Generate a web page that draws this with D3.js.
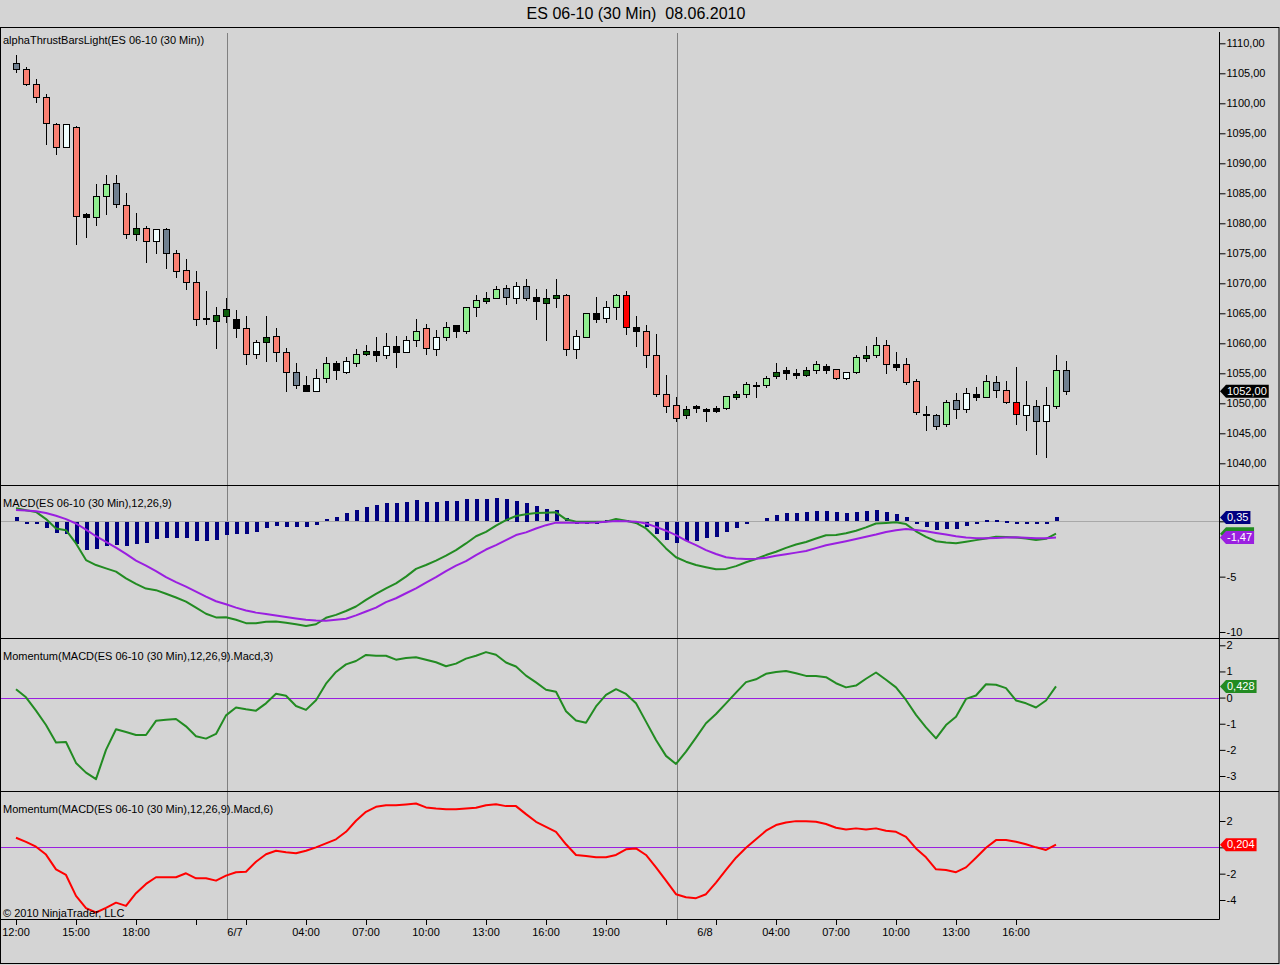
<!DOCTYPE html>
<html>
<head>
<meta charset="utf-8">
<script src="https://cdn.jsdelivr.net/npm/d3@7"></script>
<style>
    body { margin: 0; background: #d4d4d4; }
    svg { display: block; }
</style>
</head>
<body>
<div id="chart-area"></div>
<script>
// ---- bar data (ES 06-10, 30 min) ----
const open = [1106.75,1105.75,1103.25,1101.0,1096.5,1092.75,1096.0,1081.5,1081.0,1084.5,
    1086.75,1083.0,1078.25,1079.25,1077.0,1079.0,1075.0,1072.25,1070.25,1064.25,
    1063.75,1064.5,1064.0,1062.5,1058.25,1060.25,1061.25,1058.5,1055.25,1053.0,
    1052.0,1054.25,1056.75,1055.25,1056.75,1058.25,1058.75,1058.0,1059.5,1058.5,
    1060.5,1062.5,1059.0,1061.0,1063.0,1062.0,1066.0,1067.0,1067.5,1069.25,
    1067.5,1069.5,1067.75,1066.75,1067.5,1068.0,1059.0,1061.0,1065.0,1064.25,
    1066.0,1068.0,1062.75,1062.0,1058.0,1051.5,1049.75,1048.0,1049.5,1049.0,
    1049.25,1049.25,1051.0,1051.5,1053.0,1053.0,1054.5,1055.5,1055.0,1054.75,
    1055.5,1056.25,1055.75,1054.25,1055.25,1057.5,1058.0,1059.75,1056.5,1056.5,
    1053.75,1048.25,1048.0,1046.5,1050.5,1049.0,1051.5,1051.0,1053.5,1052.25,
    1050.25,1048.0,1049.5,1047.0,1049.5,1055.5];
const high = [1108.0,1106.0,1104.0,1101.5,1096.75,1096.5,1096.25,1081.75,1086.5,1088.0,
    1088.0,1085.0,1081.75,1079.5,1079.0,1079.25,1075.5,1074.0,1072.0,1068.75,
    1066.0,1067.5,1065.5,1064.5,1060.5,1064.5,1062.5,1059.25,1056.75,1054.5,
    1055.75,1057.75,1057.0,1057.75,1059.0,1059.75,1061.0,1061.75,1061.25,1061.25,
    1064.0,1063.25,1062.25,1063.5,1063.0,1066.0,1068.0,1068.5,1069.5,1069.75,
    1070.25,1070.75,1069.0,1069.0,1070.75,1068.25,1062.25,1065.0,1067.75,1067.0,
    1068.25,1068.75,1064.5,1063.0,1061.5,1054.75,1051.0,1049.5,1049.75,1049.25,
    1049.5,1051.25,1052.0,1053.5,1053.5,1054.5,1056.75,1056.0,1055.75,1056.0,
    1057.0,1056.5,1055.75,1055.25,1058.0,1059.5,1061.0,1060.5,1058.5,1057.5,
    1054.0,1049.5,1048.25,1050.5,1051.75,1052.5,1052.75,1054.75,1054.5,1053.75,
    1056.0,1053.75,1050.5,1052.75,1058.0,1057.0];
const low = [1105.25,1103.0,1100.25,1093.25,1091.5,1092.75,1076.5,1077.75,1079.75,1081.5,
    1082.75,1077.5,1077.25,1073.5,1075.0,1072.5,1071.0,1069.0,1063.0,1063.25,
    1059.25,1063.5,1061.0,1056.5,1057.5,1057.0,1057.0,1052.0,1052.5,1052.0,
    1052.0,1053.5,1054.0,1055.0,1056.25,1058.0,1057.0,1057.5,1056.0,1058.5,
    1059.5,1058.25,1058.0,1060.5,1061.0,1061.75,1064.5,1066.75,1067.5,1066.5,
    1066.75,1067.25,1064.0,1060.5,1066.0,1058.0,1057.5,1061.0,1063.5,1063.5,
    1064.0,1061.5,1059.5,1056.0,1051.25,1048.5,1047.0,1047.5,1048.5,1047.0,
    1048.5,1049.0,1050.75,1051.0,1051.0,1052.75,1054.25,1054.0,1054.25,1054.5,
    1055.0,1055.0,1054.0,1054.0,1055.0,1057.0,1057.75,1055.0,1055.5,1053.25,
    1048.25,1045.5,1045.75,1046.25,1047.5,1048.5,1050.5,1051.0,1051.0,1050.0,
    1046.5,1045.5,1041.5,1041.0,1049.25,1051.5];
const close = [1105.75,1103.25,1101.0,1096.75,1092.75,1096.5,1081.25,1081.0,1084.5,1086.5,
    1083.25,1078.25,1079.25,1077.0,1079.0,1075.0,1072.0,1070.25,1064.0,1064.0,
    1064.75,1065.75,1062.5,1058.25,1060.25,1061.0,1058.5,1055.25,1053.0,1052.0,
    1054.25,1056.75,1055.5,1057.0,1058.25,1058.75,1058.0,1059.5,1058.5,1060.5,
    1062.0,1059.25,1061.0,1062.75,1062.0,1066.0,1067.25,1067.5,1069.0,1067.75,
    1069.5,1067.5,1067.0,1067.5,1068.0,1059.0,1061.25,1065.0,1064.0,1066.0,
    1068.0,1062.75,1062.0,1058.0,1051.5,1049.5,1047.5,1049.0,1049.25,1048.75,
    1048.75,1051.25,1051.5,1053.25,1053.0,1054.25,1055.25,1055.0,1054.75,1055.5,
    1056.5,1055.5,1054.25,1055.25,1057.75,1058.0,1059.75,1056.5,1056.0,1053.5,
    1048.5,1048.0,1046.25,1050.25,1049.0,1051.75,1051.0,1053.75,1052.25,1050.25,
    1048.25,1049.75,1047.0,1049.75,1055.5,1052.0];
// alphaThrust bar colour class per bar
const barClass = ("YSSSSWSKGG" + "YSDSWYSSSK" + "DDKSWDSSYK" + "WGKWGDKWKW" + "GSWGKGGDGY" +
    "WYKDDSWGKW" + "GRKSSSSDKK" + "KGDGKGDKKD" + "GKSWGDGSKS" + "SKYGYWKGYS" + "RWYWGY").split("");

// ---- indicators (calculated on bar close, so one value less) ----
const macdLine = [1.17,1.0,0.85,0.2,-0.65,-0.8,-2.0,-3.5,-3.95,-4.25,
    -4.55,-5.15,-5.65,-6.08,-6.22,-6.55,-6.88,-7.25,-7.8,-8.35,
    -8.68,-8.67,-8.9,-9.2,-9.2,-9.08,-9.05,-9.16,-9.3,-9.45,
    -9.3,-8.72,-8.45,-8.1,-7.7,-7.1,-6.55,-6.05,-5.6,-5.0,
    -4.3,-3.95,-3.55,-3.1,-2.6,-2.0,-1.35,-0.95,-0.4,0.1,
    0.48,0.63,0.74,0.78,0.81,0.18,-0.03,-0.03,-0.03,-0.03,
    0.2,0.05,-0.15,-0.65,-1.5,-2.45,-3.25,-3.65,-3.95,-4.15,
    -4.34,-4.3,-4.05,-3.7,-3.4,-3.05,-2.75,-2.4,-2.1,-1.87,
    -1.55,-1.26,-1.24,-1.08,-0.85,-0.55,-0.2,-0.15,-0.09,-0.25,
    -0.9,-1.4,-1.8,-1.92,-1.99,-1.85,-1.7,-1.55,-1.4,-1.42,
    -1.47,-1.55,-1.68,-1.58,-1.12];
const macdAvg = [1.02,0.97,0.9,0.75,0.5,0.2,-0.2,-0.75,-1.35,-1.85,
    -2.38,-2.95,-3.55,-4.0,-4.5,-5.05,-5.5,-5.9,-6.35,-6.8,
    -7.22,-7.5,-7.8,-8.05,-8.25,-8.38,-8.5,-8.65,-8.78,-8.9,
    -8.95,-8.98,-8.9,-8.8,-8.5,-8.15,-7.8,-7.3,-6.95,-6.5,
    -6.05,-5.55,-5.05,-4.5,-4.0,-3.6,-3.05,-2.55,-2.15,-1.7,
    -1.24,-1.0,-0.65,-0.35,-0.12,-0.12,-0.12,-0.12,-0.1,-0.05,
    0.02,0.0,-0.03,-0.2,-0.5,-0.85,-1.25,-1.75,-2.15,-2.6,
    -2.95,-3.25,-3.35,-3.4,-3.38,-3.3,-3.12,-2.98,-2.83,-2.68,
    -2.42,-2.16,-1.98,-1.8,-1.6,-1.4,-1.2,-0.96,-0.8,-0.7,
    -0.78,-0.9,-1.05,-1.2,-1.35,-1.47,-1.52,-1.54,-1.5,-1.46,
    -1.45,-1.48,-1.53,-1.54,-1.47];
const macdDiff = [0.36,-0.05,-0.05,-0.58,-1.0,-1.1,-2.0,-2.5,-2.44,-2.14,
    -2.05,-2.14,-2.0,-1.9,-1.54,-1.45,-1.45,-1.45,-1.75,-1.75,
    -1.6,-1.17,-1.08,-1.08,-0.94,-0.54,-0.4,-0.45,-0.45,-0.45,
    -0.24,0.18,0.36,0.72,1.02,1.32,1.47,1.68,1.68,1.77,
    1.92,1.77,1.77,1.83,1.83,1.99,2.01,2.01,2.13,2.01,
    1.86,1.68,1.38,1.11,1.02,0.27,-0.02,-0.02,-0.02,0.09,
    0.18,0.1,-0.15,-0.49,-1.08,-1.6,-1.87,-1.69,-1.69,-1.48,
    -1.33,-0.94,-0.58,-0.18,0.0,0.27,0.57,0.72,0.72,0.81,
    0.9,0.9,0.81,0.72,0.81,0.93,1.02,0.81,0.63,0.36,
    -0.15,-0.42,-0.76,-0.66,-0.6,-0.36,-0.21,0.09,0.15,0.05,
    -0.05,-0.05,-0.05,-0.05,0.35];
const mom3 = [0.32,0.01,-0.5,-1.05,-1.72,-1.7,-2.5,-2.87,-3.12,-2.0,
    -1.21,-1.32,-1.43,-1.43,-0.89,-0.85,-0.82,-1.1,-1.48,-1.57,
    -1.39,-0.68,-0.38,-0.45,-0.5,-0.22,0.15,0.07,-0.32,-0.47,
    -0.1,0.53,0.98,1.27,1.4,1.63,1.6,1.6,1.45,1.51,
    1.54,1.45,1.35,1.2,1.3,1.49,1.6,1.74,1.64,1.34,
    1.19,0.84,0.58,0.3,0.22,-0.52,-0.88,-0.96,-0.34,0.1,
    0.32,0.14,-0.22,-0.92,-1.62,-2.23,-2.54,-2.07,-1.53,-0.98,
    -0.63,-0.22,0.19,0.59,0.7,0.91,0.98,1.02,0.93,0.83,
    0.83,0.78,0.55,0.39,0.46,0.72,0.96,0.68,0.39,-0.09,
    -0.66,-1.14,-1.56,-1.05,-0.73,-0.05,0.08,0.51,0.49,0.36,
    -0.11,-0.22,-0.38,-0.11,0.428];
const mom6 = [0.73,0.42,0.05,-0.55,-1.67,-2.1,-3.69,-4.62,-4.95,-4.6,
    -4.2,-4.45,-3.48,-2.78,-2.27,-2.27,-2.27,-1.97,-2.35,-2.35,
    -2.53,-2.15,-1.89,-1.85,-1.09,-0.53,-0.26,-0.38,-0.45,-0.26,
    0.0,0.3,0.61,1.18,2.02,2.7,3.08,3.2,3.2,3.26,
    3.33,3.03,2.95,2.9,2.9,2.95,3.0,3.2,3.28,3.13,
    3.13,2.52,1.94,1.56,1.18,0.23,-0.58,-0.66,-0.76,-0.76,
    -0.58,-0.15,-0.08,-0.58,-1.52,-2.53,-3.56,-3.79,-3.86,-3.56,
    -2.68,-1.72,-0.79,-0.03,0.61,1.26,1.69,1.89,1.99,1.99,
    1.94,1.77,1.49,1.36,1.44,1.36,1.44,1.26,1.18,0.8,
    -0.08,-0.76,-1.67,-1.72,-1.89,-1.52,-0.79,-0.03,0.55,0.55,
    0.42,0.23,0.0,-0.2,0.204];

// ---- axis labels ----
const timeTickIdx = [0, 6, 12, 18, 23, 29, 35, 41, 47, 53, 59, 65, 70, 76, 82, 88, 94, 100];
const timeTickText = ["12:00", "15:00", "18:00", "", "", "04:00", "07:00", "10:00", "13:00", "16:00", "19:00",
    "", "", "04:00", "07:00", "10:00", "13:00", "16:00"];
const dateIdx = [21.9, 68.9];
const dateText = ["6/7", "6/8"];
const sessionBreakIdx = [21.1, 66.1];
const priceTicks = [1110, 1105, 1100, 1095, 1090, 1085, 1080, 1075, 1070, 1065, 1060, 1055, 1050, 1045, 1040];
const macdTicks = [0, -5, -10];
const mom3Ticks = [2, 1, 0, -1, -2, -3];
const mom6Ticks = [2, 0, -2, -4];

const candleFill = {S: "#fa8072", G: "#90ee90", W: "#f0ffff", Y: "#708090", D: "#0c5e0c", K: "#000000", R: "#ff0000"};


class NinjaChart {
    constructor(parentElement) {
        this.parentElement = parentElement;
        this.initVis();
    }

    initVis() {
        let vis = this;

        vis.width = 1280;
        vis.height = 965;
        vis.axisX = 1219.5;

        vis.svg = d3.select("#" + vis.parentElement).append("svg")
            .attr("width", vis.width)
            .attr("height", vis.height)
            .style("font-family", "'Liberation Sans', Arial, sans-serif")
            .style("font-size", "11px");

        vis.svg.append("rect")
            .attr("width", vis.width)
            .attr("height", vis.height)
            .attr("fill", "#d4d4d4");

        // Scales (bar index -> x, one y scale per panel)
        vis.x = d3.scaleLinear().domain([0, open.length - 1]).range([16, 1066]);
        vis.yPrice = d3.scaleLinear().domain([1040, 1110]).range([463.3, 43.3]);
        vis.yMacd = d3.scaleLinear().domain([-10, 0]).range([632, 521.3]);
        vis.yMom3 = d3.scaleLinear().domain([-3, 2]).range([776, 645.3]);
        vis.yMom6 = d3.scaleLinear().domain([-4, 2]).range([900, 821]);

        vis.locale = d3.formatLocale({decimal: ",", thousands: ".", grouping: [3], currency: ["", ""], minus: "-"});

        vis.updateVis();
    }

    updateVis() {
        let vis = this;
        let px = v => Math.round(v);

        // Title
        vis.svg.append("text")
            .attr("x", 636)
            .attr("y", 13)
            .attr("dy", "0.35em")
            .attr("text-anchor", "middle")
            .style("font-size", "16px")
            .style("white-space", "pre")
            .text("ES 06-10 (30 Min)  08.06.2010");

        // Session break lines
        vis.svg.append("g")
            .selectAll("line")
            .data(sessionBreakIdx)
            .join("line")
            .attr("x1", d => px(vis.x(d)) + 0.5)
            .attr("x2", d => px(vis.x(d)) + 0.5)
            .attr("y1", 33)
            .attr("y2", 919)
            .attr("stroke", "#808080");

        // Zero lines
        vis.svg.append("line")
            .attr("x1", 1).attr("x2", vis.axisX)
            .attr("y1", px(vis.yMacd(0)) + 0.5).attr("y2", px(vis.yMacd(0)) + 0.5)
            .attr("stroke", "#a8a8a8");
        [vis.yMom3, vis.yMom6].forEach(s => {
            vis.svg.append("line")
                .attr("x1", 1).attr("x2", vis.axisX)
                .attr("y1", px(s(0)) + 0.5).attr("y2", px(s(0)) + 0.5)
                .attr("stroke", "#9a1fe0");
        });

        // Candles
        let bars = open.map((o, i) => ({i: i, o: o, h: high[i], l: low[i], c: close[i], k: barClass[i]}));
        let candles = vis.svg.append("g");
        candles.selectAll("line")
            .data(bars)
            .join("line")
            .attr("x1", d => px(vis.x(d.i)) + 0.5)
            .attr("x2", d => px(vis.x(d.i)) + 0.5)
            .attr("y1", d => px(vis.yPrice(d.h)))
            .attr("y2", d => px(vis.yPrice(d.l)) + 1)
            .attr("stroke", "#000");
        candles.selectAll("rect")
            .data(bars)
            .join("rect")
            .attr("x", d => px(vis.x(d.i)) - 2.5)
            .attr("y", d => px(vis.yPrice(Math.max(d.o, d.c))) + 0.5)
            .attr("width", 6)
            .attr("height", d => Math.max(1, px(vis.yPrice(Math.min(d.o, d.c))) - px(vis.yPrice(Math.max(d.o, d.c)))))
            .attr("fill", d => candleFill[d.k])
            .attr("stroke", "#000");

        // MACD histogram
        let zero = vis.yMacd(0);
        vis.svg.append("g")
            .selectAll("rect")
            .data(macdDiff.map((v, i) => ({i: i, v: v})).filter(d => d.v !== 0))
            .join("rect")
            .attr("x", d => px(vis.x(d.i)) - 1)
            .attr("width", 4)
            .attr("y", d => d.v > 0 ? px(vis.yMacd(d.v)) : px(zero) + 1)
            .attr("height", d => Math.max(2, px(Math.abs(vis.yMacd(d.v) - zero))))
            .attr("fill", "#000080");

        // Indicator lines
        let drawLine = (values, scale, color) => {
            vis.svg.append("path")
                .datum(values)
                .attr("fill", "none")
                .attr("stroke", color)
                .attr("stroke-width", 2)
                .attr("stroke-linejoin", "round")
                .attr("d", d3.line().x((d, i) => vis.x(i)).y(d => scale(d)));
        };
        drawLine(macdLine, vis.yMacd, "#228b22");
        drawLine(macdAvg, vis.yMacd, "#9a1fe0");
        drawLine(mom3, vis.yMom3, "#228b22");
        drawLine(mom6, vis.yMom6, "#ff0000");

        // Frame and panel separators
        let frame = vis.svg.append("g").attr("stroke", "#000").attr("fill", "none");
        frame.append("rect").attr("x", 0.5).attr("y", 27.5).attr("width", 1278.5).attr("height", 936);
        [485.5, 638.5, 791.5].forEach(y => {
            frame.append("line").attr("x1", 0).attr("x2", 1279).attr("y1", y).attr("y2", y);
        });
        frame.append("line").attr("x1", 0).attr("x2", vis.axisX).attr("y1", 919.5).attr("y2", 919.5);
        frame.append("line").attr("x1", vis.axisX).attr("x2", vis.axisX).attr("y1", 32).attr("y2", 919.5);

        // Right axes (the zero label sits under the value flags in MACD and Macd,6)
        let drawAxis = (scale, ticks, format) => {
            let g = vis.svg.append("g")
                .attr("transform", `translate(${vis.axisX},0)`)
                .call(d3.axisRight(scale).tickValues(ticks).tickSize(6).tickPadding(1).tickFormat(format));
            g.select(".domain").remove();
            g.attr("font-family", null).attr("font-size", null);
            g.selectAll("line").attr("stroke", "#000");
            g.selectAll("text").attr("fill", "#000");
        };
        let fInt = vis.locale.format("d");
        let fNoZero = v => v === 0 ? "" : fInt(v);
        drawAxis(vis.yPrice, priceTicks, vis.locale.format(".2f"));
        drawAxis(vis.yMacd, macdTicks, fNoZero);
        drawAxis(vis.yMom3, mom3Ticks, fInt);
        drawAxis(vis.yMom6, mom6Ticks, fNoZero);

        // Time axis
        let timeAxis = vis.svg.append("g");
        timeAxis.selectAll("line")
            .data(timeTickIdx)
            .join("line")
            .attr("x1", d => px(vis.x(d)) + 0.5)
            .attr("x2", d => px(vis.x(d)) + 0.5)
            .attr("y1", 920)
            .attr("y2", 925)
            .attr("stroke", "#000");
        timeAxis.selectAll("text.time")
            .data(timeTickIdx)
            .join("text")
            .attr("class", "time")
            .attr("x", d => vis.x(d))
            .attr("y", 932)
            .attr("dy", "0.35em")
            .attr("text-anchor", "middle")
            .text((d, i) => timeTickText[i]);
        timeAxis.selectAll("text.date")
            .data(dateIdx)
            .join("text")
            .attr("class", "date")
            .attr("x", d => vis.x(d))
            .attr("y", 932)
            .attr("dy", "0.35em")
            .attr("text-anchor", "middle")
            .text((d, i) => dateText[i]);

        // Panel captions
        let captions = [
            ["alphaThrustBarsLight(ES 06-10 (30 Min))", 40],
            ["MACD(ES 06-10 (30 Min),12,26,9)", 503],
            ["Momentum(MACD(ES 06-10 (30 Min),12,26,9).Macd,3)", 656],
            ["Momentum(MACD(ES 06-10 (30 Min),12,26,9).Macd,6)", 809],
            ["\u00a9 2010 NinjaTrader, LLC", 913]
        ];
        vis.svg.append("g")
            .selectAll("text")
            .data(captions)
            .join("text")
            .attr("x", 3)
            .attr("y", d => d[1])
            .attr("dy", "0.35em")
            .text(d => d[0]);

        // Last value flags
        let flag = (y, label, fill, showText) => {
            let g = vis.svg.append("g");
            let shape = g.append("path").attr("fill", fill);
            let t = g.append("text")
                .attr("x", 1227)
                .attr("y", y)
                .attr("dy", "0.35em")
                .attr("fill", "#fff")
                .text(label);
            let w = t.node().getComputedTextLength();
            shape.attr("d", `M1220,${y} L1226,${y - 6.5} L${1229 + w},${y - 6.5} L${1229 + w},${y + 6.5} L1226,${y + 6.5} Z`);
            // hidden under the next flag in the original
            if (!showText) t.remove();
        };
        let last = a => a[a.length - 1];
        let f2 = vis.locale.format(".2f"), f3 = vis.locale.format(".3f");
        flag(vis.yPrice(last(close)), f2(last(close)), "#000", true);
        flag(vis.yMacd(last(macdLine)), f2(last(macdLine)), "#228b22", false);
        flag(vis.yMacd(last(macdAvg)), f2(last(macdAvg)), "#9a1fe0", true);
        flag(vis.yMacd(last(macdDiff)), f2(last(macdDiff)), "#000080", true);
        flag(vis.yMom3(last(mom3)), f3(last(mom3)), "#228b22", true);
        flag(vis.yMom6(last(mom6)), f3(last(mom6)), "#ff0000", true);
    }
}

new NinjaChart("chart-area");
</script>
</body>
</html>
